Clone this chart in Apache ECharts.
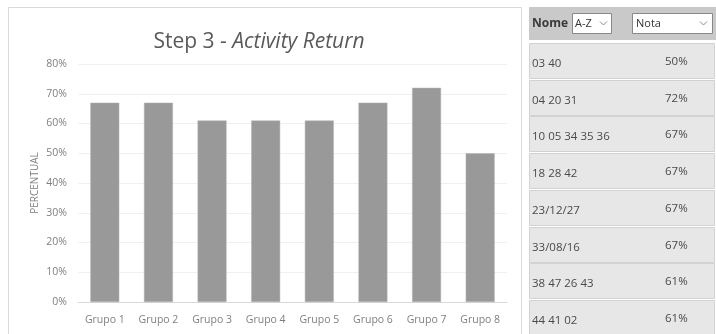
<!DOCTYPE html>
<html>
<head>
<meta charset="utf-8">
<script src="https://cdn.jsdelivr.net/npm/echarts@6/dist/echarts.min.js"></script>
<style>
  html, body { margin: 0; padding: 0; background: #ffffff; }
  #chart { width: 716px; height: 334px; }
</style>
</head>
<body>
<div id="chart"></div>
<script>
// Bar chart data
const categories = ['Grupo 1', 'Grupo 2', 'Grupo 3', 'Grupo 4', 'Grupo 5', 'Grupo 6', 'Grupo 7', 'Grupo 8'];
const values = [67, 67, 61, 61, 61, 67, 72, 50];

// Side table data
const rowNames = ['03 40', '04 20 31', '10 05 34 35 36', '18 28 42', '23/12/27', '33/08/16', '38 47 26 43', '44 41 02'];
const rowNotes = [50, 72, 67, 67, 67, 67, 61, 61];
const headerName = 'Nome';
const sortLabel = 'A-Z';
const noteLabel = 'Nota';

const FONT = '"Open Sans", sans-serif';
const TABLE_TEXT = '#4a4a4a';

function chevron(cx, cy) {
  return {
    type: 'polyline',
    shape: { points: [[cx - 3.5, cy - 2], [cx, cy + 1.5], [cx + 3.5, cy - 2]] },
    style: { stroke: '#8c8c8c', lineWidth: 1, fill: null }
  };
}

function buildTable() {
  const els = [];
  // chart frame
  els.push({ type: 'rect', shape: { x: 8.5, y: 7.5, width: 513, height: 340 },
    style: { fill: null, stroke: '#d9d9d9', lineWidth: 1 }, z: 0 });
  // header band
  els.push({ type: 'rect', shape: { x: 529, y: 7, width: 187, height: 33 },
    style: { fill: '#c9c9c9' } });
  els.push({ type: 'text', x: 532, y: 24,
    style: { text: headerName, font: 'bold 12px ' + FONT, fill: '#3a3a3a', textVerticalAlign: 'middle' } });
  els.push({ type: 'rect', shape: { x: 572.5, y: 13.5, width: 39, height: 20 },
    style: { fill: '#ffffff', stroke: '#8a8a8a', lineWidth: 1 } });
  els.push({ type: 'text', x: 575, y: 24,
    style: { text: sortLabel, font: '11px ' + FONT, fill: '#333333', textVerticalAlign: 'middle' } });
  els.push(chevron(603.5, 23.5));
  els.push({ type: 'rect', shape: { x: 632.5, y: 13.5, width: 80, height: 20 },
    style: { fill: '#ffffff', stroke: '#8a8a8a', lineWidth: 1 } });
  els.push({ type: 'text', x: 636, y: 24,
    style: { text: noteLabel, font: '11px ' + FONT, fill: '#333333', textVerticalAlign: 'middle' } });
  els.push(chevron(703.5, 23.5));

  // rows
  rowNames.forEach(function (name, i) {
    const top = Math.round(43 + i * 36.7);
    els.push({ type: 'rect', shape: { x: 529.5, y: top + 0.5, width: 185, height: 35 },
      style: { fill: '#e7e7e7', stroke: '#d2d2d2', lineWidth: 1 } });
    els.push({ type: 'text', x: 532, y: top + 21,
      style: { text: name, font: '11.5px ' + FONT, fill: TABLE_TEXT, textVerticalAlign: 'middle' } });
    els.push({ type: 'text', x: 665, y: top + 19,
      style: { text: rowNotes[i] + '%', font: '11.5px ' + FONT, fill: TABLE_TEXT, textVerticalAlign: 'middle' } });
  });
  return els;
}

const chart = echarts.init(document.getElementById('chart'), null, { renderer: 'canvas' });
chart.setOption({
  backgroundColor: '#ffffff',
  animation: false,
  title: {
    text: '{a|Step 3 - }{b|Activity Return}',
    left: 254,
    top: 27,
    textAlign: 'center',
    textStyle: {
      fontWeight: 'normal',
      rich: {
        a: { fontFamily: FONT, fontSize: 21, color: '#595959', fontWeight: 'normal' },
        b: { fontFamily: FONT, fontSize: 21, color: '#595959', fontWeight: 'normal', fontStyle: 'italic' }
      }
    }
  },
  grid: { left: 78, right: 209, top: 64, bottom: 32, containLabel: false },
  xAxis: {
    type: 'category',
    data: categories,
    axisLine: { lineStyle: { color: '#d9d9d9', width: 1 } },
    axisTick: { show: false },
    axisLabel: { color: '#7f7f7f', fontFamily: FONT, fontSize: 10.5, margin: 13 }
  },
  yAxis: {
    type: 'value',
    min: 0,
    max: 80,
    interval: 10,
    name: 'PERCENTUAL',
    nameLocation: 'middle',
    nameGap: 38,
    nameMoveOverlap: false,
    nameTextStyle: { color: '#7f7f7f', fontFamily: FONT, fontSize: 10 },
    axisLine: { show: false },
    axisTick: { show: false },
    axisLabel: { color: '#7f7f7f', fontFamily: FONT, fontSize: 10.5, margin: 11, formatter: '{value}%' },
    splitLine: { lineStyle: { color: '#f0f0f0', width: 1 } }
  },
  series: [{
    type: 'bar',
    data: values,
    barCategoryGap: '46%',
    itemStyle: { color: '#999999', borderColor: '#b5b5b5', borderWidth: 0.5 }
  }],
  graphic: { elements: buildTable() }
});
</script>
</body>
</html>
